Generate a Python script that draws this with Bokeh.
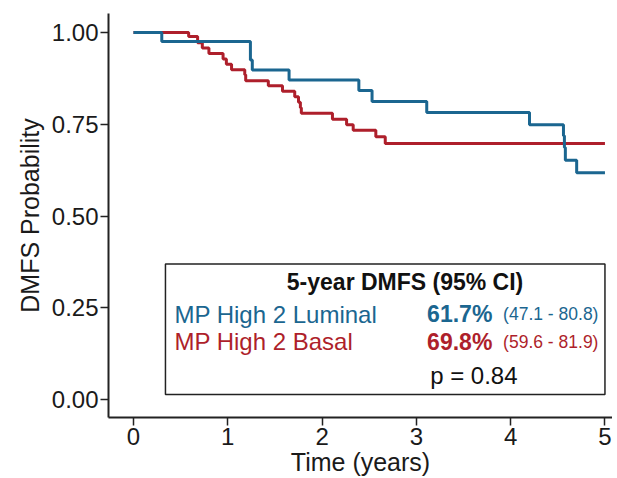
from bokeh.plotting import figure
from bokeh.models import FixedTicker, Label, BoxAnnotation, Range1d
from bokeh.embed import file_html
from bokeh.resources import INLINE

# ---- data ----
luminal_time = [0, 0.30, 1.24, 1.26, 1.65, 2.39, 2.53, 3.11, 4.20, 4.56, 4.57, 4.58, 4.70, 5.0]
luminal_surv = [1.0, 0.976, 0.925, 0.898, 0.871, 0.842, 0.812, 0.782, 0.749, 0.719, 0.687, 0.652, 0.618, 0.618]

basal_time = [0, 0.585, 0.68, 0.73, 0.80, 0.95, 0.985, 1.04, 1.18, 1.19, 1.43, 1.58, 1.71, 1.75,
              1.77, 1.78, 2.11, 2.26, 2.33, 2.57, 2.67, 5.0]
basal_surv = [1.0, 0.989, 0.972, 0.958, 0.943, 0.928, 0.914, 0.899, 0.885, 0.869, 0.855, 0.840,
              0.825, 0.810, 0.795, 0.780, 0.764, 0.749, 0.734, 0.716, 0.698, 0.698]

x_ticks = [0, 1, 2, 3, 4, 5]
y_ticks = [0.0, 0.25, 0.5, 0.75, 1.0]
y_tick_labels = ["0.00", "0.25", "0.50", "0.75", "1.00"]

group_names = ["MP High 2 Luminal", "MP High 2 Basal"]
group_rates = ["61.7%", "69.8%"]
group_ci = ["(47.1 - 80.8)", "(59.6 - 81.9)"]
legend_title = "5-year DMFS (95% CI)"
p_value_text = "p = 0.84"

BLUE = "#1b6690"
RED = "#ae1f2b"
FONT = "Liberation Sans"

p = figure(width=612, height=478, output_backend="svg", toolbar_location=None,
           x_range=Range1d(-0.265, 5.08), y_range=Range1d(-0.049, 1.052),
           min_border_left=108, min_border_right=0, min_border_top=13, min_border_bottom=10)
p.outline_line_color = None
p.xgrid.visible = False
p.ygrid.visible = False
p.background_fill_color = "white"
p.border_fill_color = "white"

p.step(basal_time, basal_surv, mode="after", line_color=RED, line_width=3)
p.step(luminal_time, luminal_surv, mode="after", line_color=BLUE, line_width=3)

for ax in (p.xaxis[0], p.yaxis[0]):
    ax.axis_line_width = 2
    ax.axis_line_color = "#222222"
    ax.major_tick_line_color = "#222222"
    ax.major_tick_line_width = 1.5
    ax.major_tick_out = 8
    ax.major_tick_in = 0
    ax.minor_tick_line_color = None
    ax.major_label_text_font = FONT
    ax.major_label_text_font_size = "24px"
    ax.major_label_text_color = "#1a1a1a"
    ax.axis_label_text_font = FONT
    ax.axis_label_text_font_size = "25px"
    ax.axis_label_text_font_style = "normal"
    ax.axis_label_text_color = "#1a1a1a"

p.xaxis.ticker = FixedTicker(ticks=x_ticks)
p.yaxis.ticker = FixedTicker(ticks=y_ticks)
p.yaxis.major_label_overrides = {t: l for t, l in zip(y_ticks, y_tick_labels)}
p.xaxis.axis_label = "Time (years)"
p.yaxis.axis_label = "DMFS Probability"
p.xaxis.major_label_standoff = 2
p.xaxis.axis_label_standoff = 0
p.yaxis.major_label_standoff = 2
p.yaxis.axis_label_standoff = 5

# legend box
box = BoxAnnotation(left=0.339, right=5.0, bottom=0.0137, top=0.369,
                    fill_color=None, fill_alpha=0, line_color="#222222",
                    line_alpha=1.0, line_width=1.5)
p.add_layout(box)

p.add_layout(Label(x=2.88, y=0.319, text=legend_title, text_font=FONT, text_font_size="23px",
                   text_font_style="bold", text_align="center", text_baseline="alphabetic",
                   text_color="#111111"))
row_y = [0.232, 0.158]
colors = [BLUE, RED]
for name, rate, ci, yy, c in zip(group_names, group_rates, group_ci, row_y, colors):
    p.add_layout(Label(x=0.434, y=yy, text=name, text_font=FONT, text_font_size="24px",
                       text_color=c, text_baseline="alphabetic"))
    p.add_layout(Label(x=3.114, y=yy, text=rate, text_font=FONT, text_font_size="23px",
                       text_font_style="bold", text_color=c, text_baseline="alphabetic"))
    p.add_layout(Label(x=3.92, y=yy, text=ci, text_font=FONT, text_font_size="17.5px",
                       text_color=c, text_baseline="alphabetic"))
p.add_layout(Label(x=3.146, y=0.065, text=p_value_text, text_font=FONT, text_font_size="24px",
                   text_color="#111111", text_baseline="alphabetic"))

open("out.html", "w").write(file_html(p, INLINE))
